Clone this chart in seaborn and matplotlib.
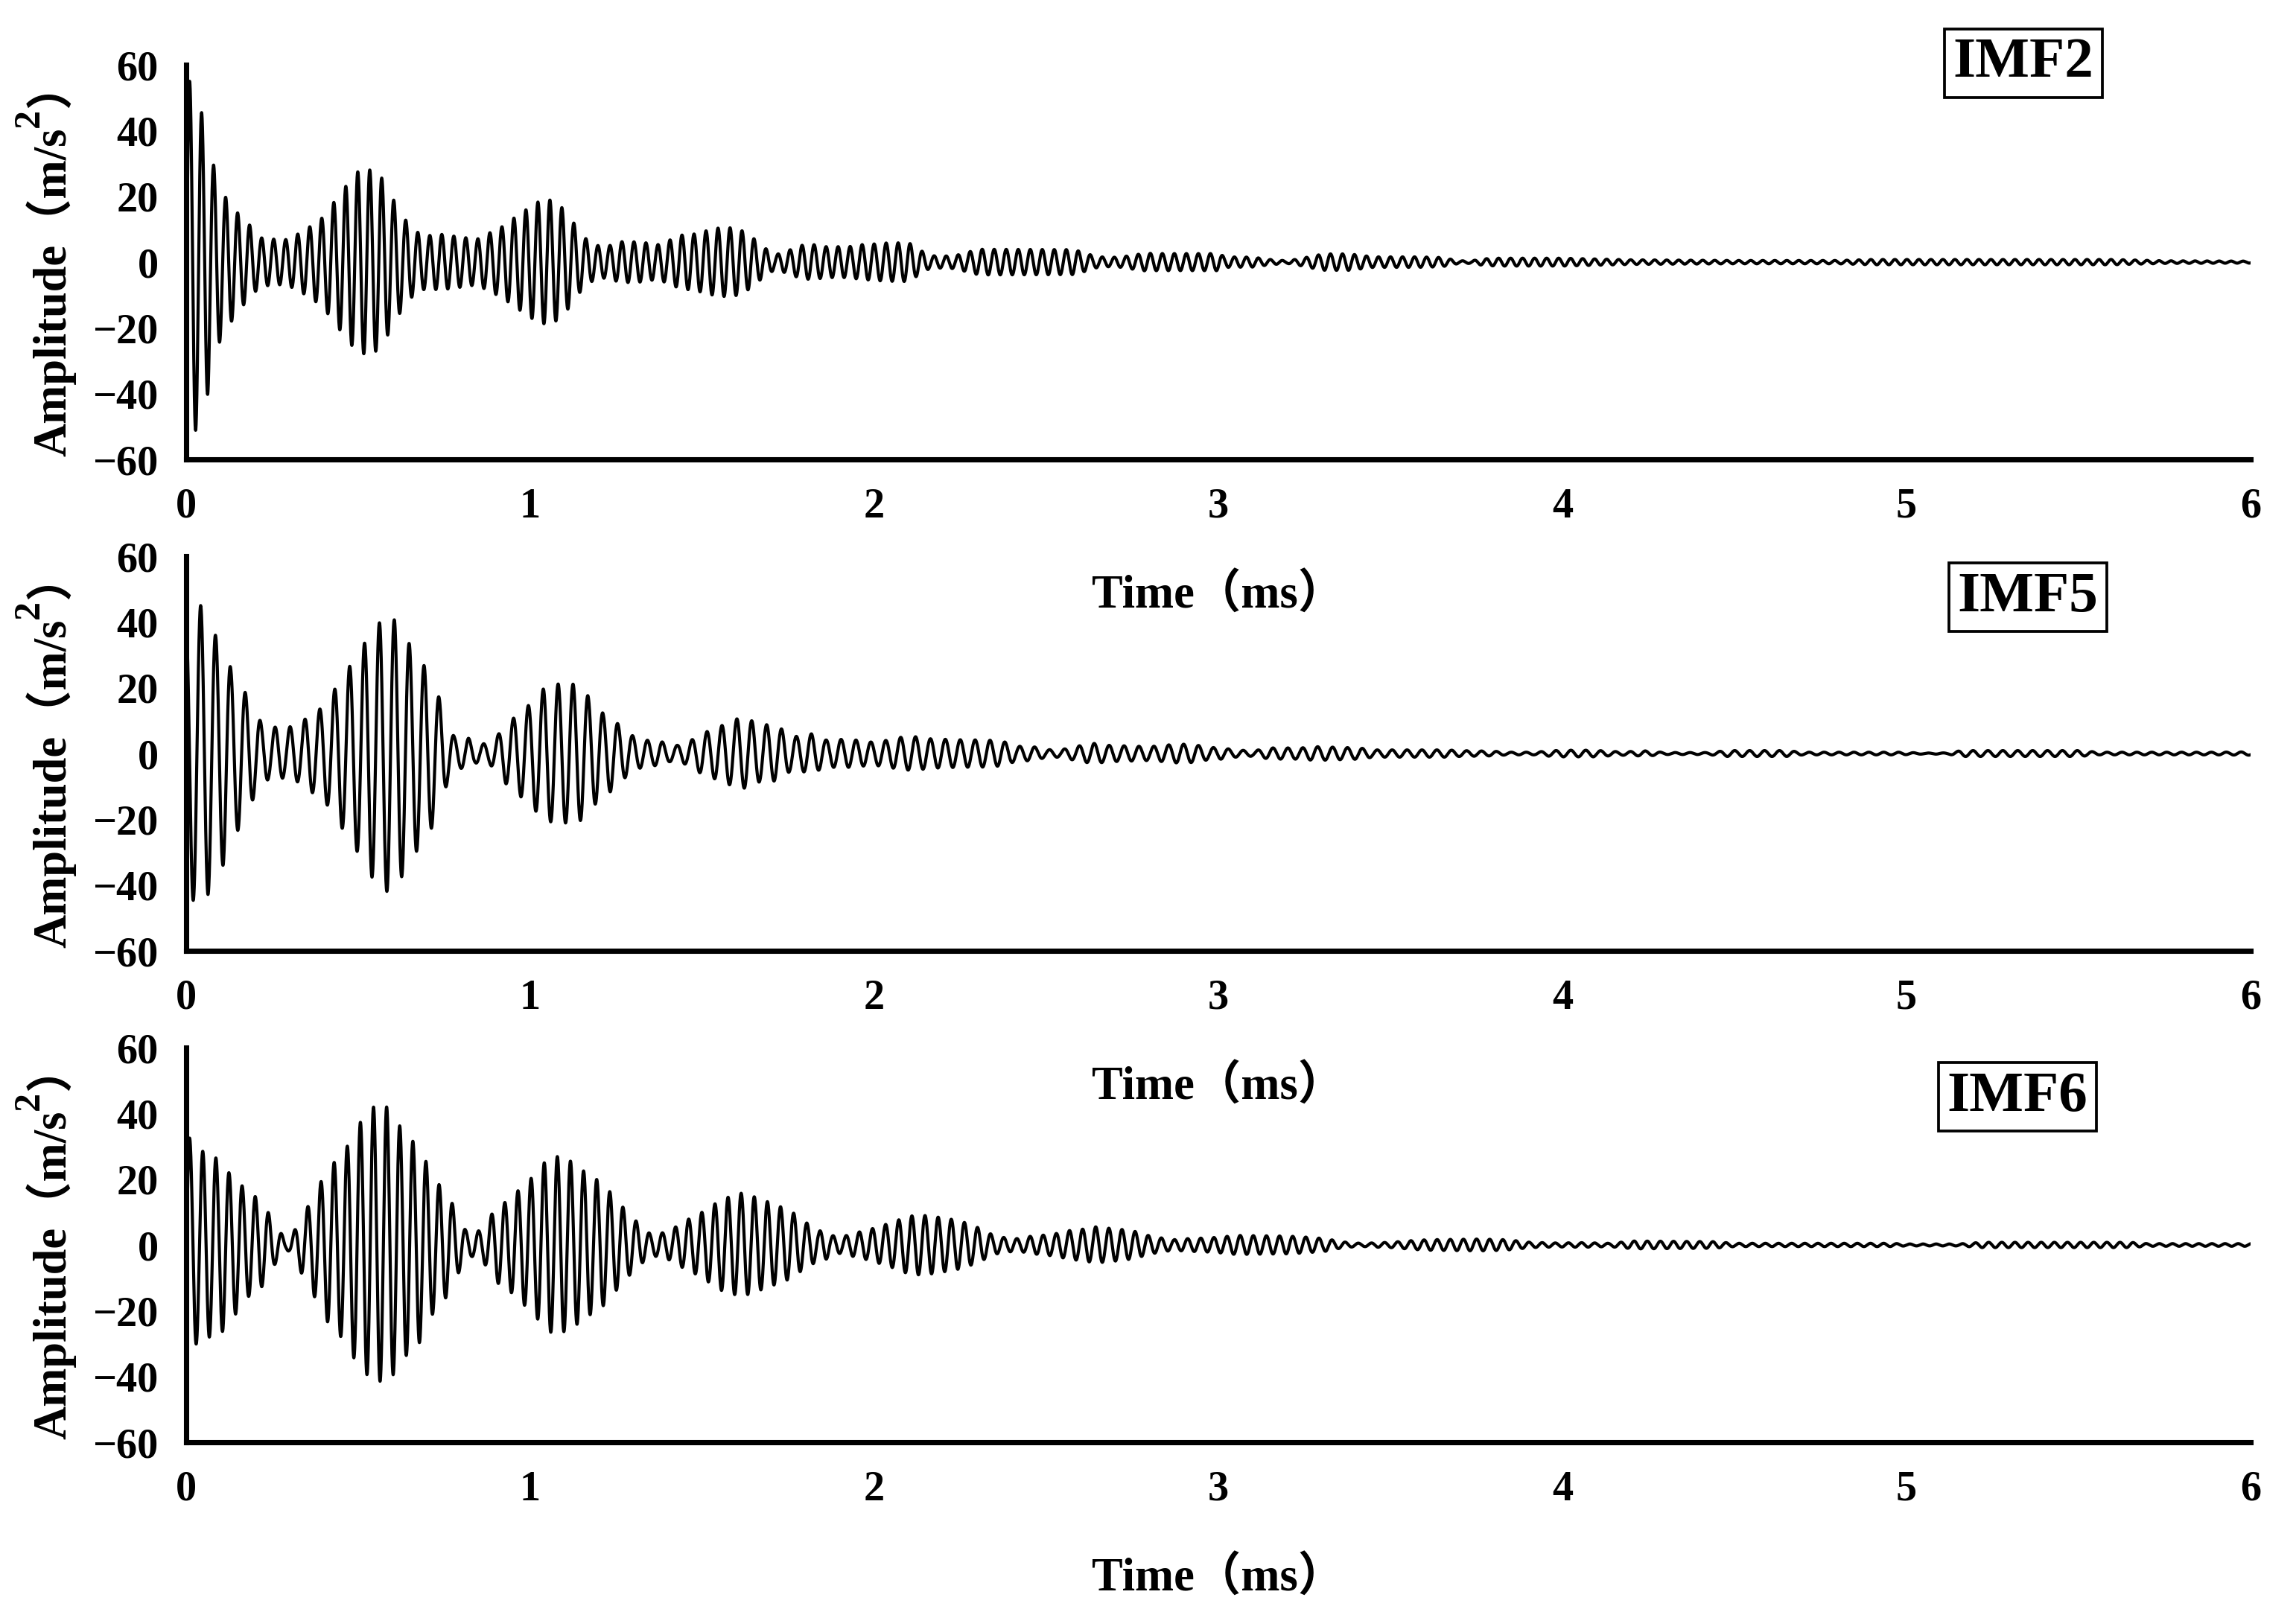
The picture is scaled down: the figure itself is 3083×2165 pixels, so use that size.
import numpy as np
import pandas as pd
import matplotlib
matplotlib.use("Agg")
import matplotlib.pyplot as plt
import seaborn as sns

# ---------------- data ----------------
# Envelope (|extremum| values, m/s^2) at the times (ms) of the peaks/troughs
imf2_env_t = [0.000, 0.010, 0.028, 0.043, 0.063, 0.078, 0.095, 0.111, 0.128, 0.146, 0.163, 0.180, 0.198, 0.215,
              0.251, 0.288, 0.324, 0.360, 0.396, 0.430, 0.465, 0.497, 0.530, 0.564, 0.597, 0.632, 0.667, 0.700,
              0.737, 0.772, 0.807, 0.844, 0.880, 0.917, 0.950, 0.986, 1.020, 1.053, 1.087, 1.120, 1.154, 1.190,
              1.225, 1.260, 1.296, 1.330, 1.368, 1.403, 1.438, 1.474, 1.507, 1.540, 1.576, 1.608, 1.643, 1.676,
              1.712, 1.754, 1.789, 1.824, 1.858, 1.926, 1.962, 1.997, 2.030, 2.100, 2.126, 2.160, 2.195, 2.236,
              2.270, 2.305, 2.580, 2.610, 2.640, 2.680, 2.720, 2.754, 2.790, 2.820, 3.000, 3.020, 3.100, 3.150,
              3.200, 3.245, 3.280, 3.310, 3.380, 3.420, 3.450, 3.580, 3.650, 3.700, 3.735, 3.770, 3.810, 4.000,
              4.200, 4.500, 4.800, 4.900, 5.600, 5.750, 6.000]
imf2_env_a = [55.0, 55.0, 51.0, 46.0, 40.0, 30.0, 25.0, 20.0, 18.7, 15.4, 13.3, 11.9, 9.3, 7.4,
              7.0, 6.8, 8.5, 10.8, 13.5, 18.3, 23.2, 27.4, 28.2, 26.4, 20.0, 13.5, 9.3, 8.0,
              8.5, 8.0, 7.5, 6.9, 8.8, 10.7, 13.2, 15.8, 18.2, 19.1, 17.2, 12.9, 7.7, 5.1,
              4.8, 6.2, 6.2, 6.0, 5.2, 6.6, 8.2, 8.5, 9.4, 10.3, 10.5, 10.0, 7.8, 4.7,
              2.2, 3.7, 5.1, 5.3, 4.7, 4.7, 5.3, 5.5, 5.8, 5.9, 4.1, 2.0, 1.8, 2.0,
              3.0, 3.9, 3.8, 2.9, 1.8, 1.4, 1.6, 2.2, 2.7, 2.6, 2.6, 1.6, 1.5, 0.8,
              0.4, 1.2, 2.0, 2.5, 2.5, 2.0, 1.6, 1.6, 1.4, 0.4, 0.4, 1.0, 1.2, 1.2,
              0.7, 0.5, 0.5, 0.8, 0.8, 0.4, 0.3]
imf2_freq = 28.65      # cycles per ms
imf2_t0 = 0.010        # time of first peak (ms)

imf5_env_t = [0.000, 0.017, 0.042, 0.063, 0.086, 0.108, 0.130, 0.154, 0.176, 0.199, 0.219, 0.240, 0.264, 0.285,
              0.307, 0.330, 0.350, 0.372, 0.393, 0.414, 0.435, 0.456, 0.476, 0.497, 0.518, 0.540, 0.562, 0.585,
              0.607, 0.628, 0.650, 0.672, 0.694, 0.716, 0.739, 0.760, 0.780, 0.800, 0.820, 0.840, 0.860, 0.882,
              0.907, 0.928, 0.950, 0.973, 0.996, 1.018, 1.040, 1.062, 1.085, 1.106, 1.128, 1.150, 1.170, 1.192,
              1.213, 1.234, 1.254, 1.275, 1.296, 1.317, 1.337, 1.360, 1.382, 1.405, 1.428, 1.452, 1.476, 1.497,
              1.518, 1.540, 1.562, 1.583, 1.604, 1.625, 1.646, 1.668, 1.690, 1.711, 1.732, 1.754, 1.775, 1.818,
              1.860, 1.903, 1.947, 1.990, 2.035, 2.080, 2.120, 2.160, 2.240, 2.330, 2.374, 2.416, 2.457, 2.500,
              2.540, 2.588, 2.637, 2.680, 2.800, 2.885, 2.930, 2.970, 3.010, 3.050, 3.100, 3.150, 3.240, 3.280,
              3.410, 3.450, 3.660, 3.700, 3.800, 3.840, 3.920, 3.960, 4.000, 4.090, 4.170, 4.240, 4.300, 4.420,
              4.480, 4.650, 4.700, 4.980, 5.050, 5.120, 5.160, 5.500, 5.560, 5.900, 6.000]
imf5_env_a = [40.0, 44.6, 45.0, 43.0, 35.7, 33.9, 25.8, 22.9, 17.5, 13.0, 9.3, 7.8, 8.1, 7.3,
              8.4, 8.7, 11.0, 12.2, 13.9, 16.1, 20.2, 23.1, 26.7, 29.8, 33.5, 37.6, 39.8, 42.1,
              40.5, 37.2, 33.1, 29.3, 26.4, 22.1, 16.0, 8.5, 5.0, 4.5, 4.7, 2.9, 2.9, 3.3,
              5.8, 9.1, 10.6, 13.2, 14.7, 17.8, 19.8, 20.9, 21.2, 21.1, 21.1, 20.2, 17.2, 15.1,
              12.0, 11.6, 9.1, 7.4, 5.5, 4.5, 4.1, 3.7, 3.6, 2.5, 2.5, 3.3, 4.5, 6.2,
              6.8, 7.9, 8.7, 9.7, 10.7, 10.5, 9.9, 8.5, 8.8, 8.3, 7.4, 5.5, 5.2, 6.0,
              4.1, 4.3, 4.1, 3.5, 4.0, 5.0, 5.1, 4.5, 4.2, 4.1, 3.7, 2.2, 2.2, 1.2,
              1.1, 2.2, 3.1, 2.5, 2.1, 2.9, 2.7, 1.9, 1.7, 1.1, 0.8, 1.7, 1.7, 2.1,
              1.7, 1.1, 1.1, 0.9, 0.7, 0.4, 0.4, 0.8, 1.0, 1.0, 0.5, 0.8, 0.3, 0.3,
              0.9, 0.9, 0.4, 0.4, 0.15, 0.2, 0.9, 0.9, 0.4, 0.4, 0.5]
imf5_freq = 23.1
imf5_t0 = 0.042

imf6_env_t = [0.000, 0.010, 0.030, 0.049, 0.068, 0.088, 0.107, 0.125, 0.144, 0.163, 0.182, 0.200, 0.219, 0.238,
              0.257, 0.275, 0.290, 0.300, 0.318, 0.336, 0.355, 0.374, 0.392, 0.410, 0.430, 0.450, 0.468, 0.487,
              0.507, 0.526, 0.545, 0.565, 0.584, 0.604, 0.623, 0.642, 0.661, 0.680, 0.699, 0.718, 0.737, 0.755,
              0.775, 0.794, 0.812, 0.830, 0.860, 0.878, 0.896, 0.915, 0.935, 0.954, 0.974, 0.993, 1.010, 1.030,
              1.050, 1.070, 1.090, 1.108, 1.125, 1.145, 1.164, 1.184, 1.204, 1.222, 1.240, 1.260, 1.278, 1.298,
              1.317, 1.335, 1.350, 1.385, 1.420, 1.438, 1.455, 1.474, 1.493, 1.512, 1.532, 1.550, 1.570, 1.590,
              1.607, 1.626, 1.646, 1.665, 1.683, 1.702, 1.722, 1.741, 1.760, 1.780, 1.800, 1.818, 1.837, 1.856,
              1.874, 1.907, 1.945, 1.980, 2.020, 2.056, 2.094, 2.126, 2.165, 2.200, 2.236, 2.270, 2.310, 2.347,
              2.380, 2.420, 2.457, 2.493, 2.530, 2.568, 2.606, 2.643, 2.680, 2.720, 2.758, 2.796, 2.830, 2.870,
              2.906, 2.980, 3.015, 3.050, 3.200, 3.240, 3.278, 3.314, 3.350, 3.390, 3.424, 3.465, 3.500, 3.535,
              3.573, 3.610, 3.760, 3.834, 3.873, 3.907, 3.983, 4.060, 4.135, 4.210, 4.440, 4.500, 4.950, 5.000,
              5.150, 5.220, 5.650, 5.700, 6.000]
imf6_env_a = [30.0, 32.5, 30.0, 28.4, 28.0, 26.3, 26.3, 21.8, 21.0, 17.9, 15.6, 14.8, 12.8, 10.0,
              6.0, 3.7, 1.5, 2.0, 5.0, 8.8, 11.9, 16.0, 19.3, 23.3, 25.1, 28.0, 30.0, 34.3,
              37.4, 39.5, 42.0, 41.4, 42.0, 39.1, 35.8, 33.3, 31.3, 29.5, 24.9, 20.6, 18.1, 16.0,
              12.3, 8.0, 4.5, 3.5, 4.7, 7.4, 10.9, 12.3, 13.4, 15.5, 17.4, 19.3, 21.0, 23.7,
              26.1, 27.0, 26.7, 25.9, 25.1, 23.3, 21.8, 20.6, 19.1, 17.7, 14.8, 12.8, 10.3, 8.2,
              6.4, 4.5, 3.3, 3.7, 5.3, 6.6, 7.6, 8.5, 9.5, 10.9, 12.1, 13.6, 14.4, 14.8,
              16.0, 15.1, 15.0, 13.7, 13.6, 12.3, 11.9, 10.9, 10.1, 8.5, 6.8, 6.2, 4.1, 4.8,
              2.9, 2.5, 3.7, 4.5, 5.8, 7.0, 8.6, 9.1, 8.8, 8.2, 7.6, 6.6, 4.9, 2.9,
              2.2, 1.9, 2.7, 3.0, 3.5, 4.4, 4.8, 5.5, 5.1, 4.7, 4.1, 2.9, 2.2, 1.6,
              1.9, 2.2, 2.5, 2.9, 2.7, 2.5, 2.2, 1.9, 1.1, 0.6, 0.5, 0.7, 0.8, 1.1,
              1.4, 1.6, 1.8, 1.6, 1.2, 0.8, 0.6, 0.7, 0.5, 1.2, 1.0, 0.5, 0.5, 0.3,
              0.3, 0.8, 0.8, 0.4, 0.4]
imf6_freq = 26.2
imf6_t0 = 0.010

panel_names = ["IMF2", "IMF5", "IMF6"]
x_ticks = [0, 1, 2, 3, 4, 5, 6]
y_ticks = [-60, -40, -20, 0, 20, 40, 60]
x_label = "Time（ms）"
y_label_parts = ["Amplitude（m/s", "2", "）"]

# ---------------- style ----------------
sns.set_theme(style="white")
plt.rcParams["font.family"] = ["Liberation Serif", "Noto Sans CJK SC", "DejaVu Sans"]
plt.rcParams["font.weight"] = "bold"
plt.rcParams["axes.labelweight"] = "bold"
plt.rcParams["axes.unicode_minus"] = True

fig, axes = plt.subplots(3, 1, figsize=(3083 / 300, 2165 / 300), dpi=300)
fig.subplots_adjust(left=0.0811, right=0.9802, top=0.9598, bottom=0.1053, hspace=0.2453)

t = np.linspace(0.0, 6.0, 24001)
series = [
    (imf2_env_t, imf2_env_a, imf2_freq, imf2_t0),
    (imf5_env_t, imf5_env_a, imf5_freq, imf5_t0),
    (imf6_env_t, imf6_env_a, imf6_freq, imf6_t0),
]
box_pos = [(0.890, 1.004), (0.892, 0.896), (0.887, 0.875)]

for ax, (et, ea, f, t0), name, bp in zip(axes, series, panel_names, box_pos):
    ax.patch.set_alpha(0.0)
    env = np.interp(t, et, ea)
    y = env * np.cos(2 * np.pi * f * (t - t0))
    df = pd.DataFrame({"t": t, "a": y})
    sns.lineplot(data=df, x="t", y="a", ax=ax, color="black", linewidth=1.0,
                 estimator=None, sort=False, legend=False)
    ax.set_xlim(0, 6)
    ax.set_ylim(-60, 60)
    ax.set_xticks(x_ticks)
    ax.set_yticks(y_ticks)
    ax.set_xticklabels([str(v) for v in x_ticks])
    ax.set_yticklabels([("−" + str(-v)) if v < 0 else str(v) for v in y_ticks])
    for s in ["top", "right"]:
        ax.spines[s].set_visible(False)
    for s in ["left", "bottom"]:
        ax.spines[s].set_linewidth(1.7)
        ax.spines[s].set_color("black")
    ax.tick_params(axis="both", direction="in", length=6.8, width=1.7, color="black",
                   labelsize=13.5, pad=9, labelcolor="black")
    for lab in ax.get_xticklabels() + ax.get_yticklabels():
        lab.set_fontweight("bold")
    ax.set_xlabel(x_label, fontsize=15, fontweight="bold", labelpad=15.5, color="black")
    ax.set_ylabel("")
    ax.text(bp[0], bp[1], name, transform=ax.transAxes, ha="center", va="center",
            fontsize=18.5, fontweight="bold", color="black", zorder=5, clip_on=False,
            bbox=dict(boxstyle="square,pad=0.15", fc="white", ec="black", lw=0.9))

# ---- y labels with a raised "2", composed along the rotated baseline ----
renderer = fig.canvas.get_renderer()
inv = fig.transFigure.inverted()
x_base = 88.0           # display px of the label baseline
for ax in axes:
    bb = ax.get_window_extent(renderer)
    y_start = bb.y0 + 4
    t1 = fig.text(*inv.transform((x_base, y_start)), y_label_parts[0], rotation=90,
                  rotation_mode="anchor", ha="left", va="baseline", fontsize=15,
                  fontweight="bold", color="black")
    L1 = t1.get_window_extent(renderer).height
    t2 = fig.text(*inv.transform((x_base - 36, y_start + L1 + 1)), y_label_parts[1], rotation=90,
                  rotation_mode="anchor", ha="left", va="baseline", fontsize=12,
                  fontweight="bold", color="black")
    L2 = t2.get_window_extent(renderer).height
    fig.text(*inv.transform((x_base, y_start + L1 + L2 + 2)), y_label_parts[2], rotation=90,
             rotation_mode="anchor", ha="left", va="baseline", fontsize=15,
             fontweight="bold", color="black")

fig.savefig("out.png", dpi=300, facecolor="white")
